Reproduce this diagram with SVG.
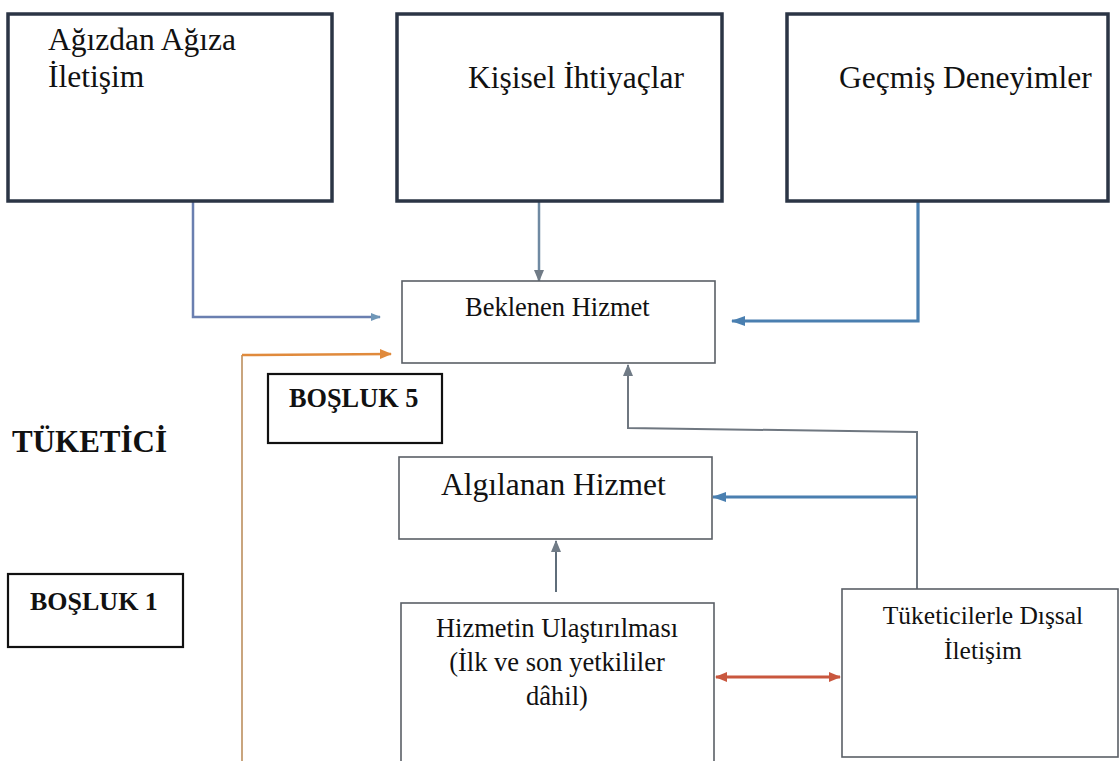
<svg xmlns="http://www.w3.org/2000/svg" width="1120" height="761" viewBox="0 0 1120 761">
<style>
  .top{fill:#fff;stroke:#2b3545;stroke-width:3.5}
  .box{fill:#fff;stroke:#5a5f66;stroke-width:1.6}
  .gap{fill:#fff;stroke:#111;stroke-width:2.2}
  .t{font-family:"Liberation Serif","Times New Roman",serif;fill:#111}
  .b{font-family:"Liberation Serif","Times New Roman",serif;font-weight:bold;fill:#111}
  .c{fill:none}
</style>
<defs>
  <marker id="aBlue" markerWidth="10" markerHeight="10" refX="9" refY="5" orient="auto" markerUnits="userSpaceOnUse" viewBox="0 0 10 10">
    <path d="M0,1 L10,5 L0,9 z" fill="#6f97b8"/>
  </marker>
  <marker id="aDeep" markerWidth="14" markerHeight="12" refX="13" refY="6" orient="auto" markerUnits="userSpaceOnUse" viewBox="0 0 14 12">
    <path d="M0,1 L14,6 L0,11 z" fill="#4a7fb0"/>
  </marker>
  <marker id="aGray" markerWidth="12" markerHeight="12" refX="11" refY="6" orient="auto" markerUnits="userSpaceOnUse" viewBox="0 0 12 12">
    <path d="M0,1 L12,6 L0,11 z" fill="#707b86"/>
  </marker>
  <marker id="aOrange" markerWidth="12" markerHeight="12" refX="11" refY="6" orient="auto" markerUnits="userSpaceOnUse" viewBox="0 0 12 12">
    <path d="M0,1 L12,6 L0,11 z" fill="#e08a3c"/>
  </marker>
  <marker id="aRed" markerWidth="12" markerHeight="12" refX="11" refY="6" orient="auto-start-reverse" markerUnits="userSpaceOnUse" viewBox="0 0 12 12">
    <path d="M0,1 L12,6 L0,11 z" fill="#c9573e"/>
  </marker>
</defs>
<rect width="1120" height="761" fill="#fff"/>

<g id="connectors" class="c">
  <polyline points="193,201 193,317 380,317" stroke="#6a7fb0" stroke-width="2.5" fill="none" marker-end="url(#aBlue)"/>
  <line x1="539" y1="201" x2="539" y2="281" stroke="#6f8aa2" stroke-width="2.5" marker-end="url(#aGray)"/>
  <polyline points="918,201 918,321 732,321" stroke="#4a7fb0" stroke-width="3.2" fill="none" marker-end="url(#aDeep)"/>
  <line x1="242" y1="761" x2="242" y2="355" stroke="#c9a57e" stroke-width="2"/>
  <line x1="242" y1="355" x2="391" y2="354" stroke="#e08a3c" stroke-width="2.5" marker-end="url(#aOrange)"/>
  <polyline points="917,589 917,432 628,428 628,365" stroke="#6f7780" stroke-width="2" fill="none" marker-end="url(#aGray)"/>
  <line x1="917" y1="497" x2="713" y2="497" stroke="#4a7fb0" stroke-width="3" marker-end="url(#aDeep)"/>
  <line x1="556" y1="592" x2="556" y2="541" stroke="#5f6d7a" stroke-width="2" marker-end="url(#aGray)"/>
  <line x1="716" y1="677" x2="840" y2="677" stroke="#c9573e" stroke-width="3" marker-start="url(#aRed)" marker-end="url(#aRed)"/>
</g>

<g id="agizdan">
  <rect class="top" x="8" y="14" width="324" height="187"/>
  <text class="t" x="48" y="50" font-size="31.5">Ağızdan Ağıza</text>
  <text class="t" x="48" y="87" font-size="31.5">İletişim</text>
</g>
<g id="kisisel">
  <rect class="top" x="397" y="14" width="325" height="187"/>
  <text class="t" x="468" y="88" font-size="31.5">Kişisel İhtiyaçlar</text>
</g>
<g id="gecmis">
  <rect class="top" x="787" y="14" width="321" height="187"/>
  <text class="t" x="839" y="88" font-size="31.5">Geçmiş Deneyimler</text>
</g>
<g id="beklenen">
  <rect class="box" x="402" y="281" width="313" height="82"/>
  <text class="t" x="465" y="316" font-size="26.5">Beklenen Hizmet</text>
</g>
<g id="bosluk5">
  <rect class="gap" x="268" y="374" width="174" height="69"/>
  <text class="b" x="289" y="407" font-size="26.3">BOŞLUK 5</text>
</g>
<g id="tuketici">
  <text class="b" x="12" y="452" font-size="31">TÜKETİCİ</text>
</g>
<g id="algilanan">
  <rect class="box" x="399" y="457" width="313" height="82"/>
  <text class="t" x="441" y="495" font-size="31.5">Algılanan Hizmet</text>
</g>
<g id="bosluk1">
  <rect class="gap" x="8" y="574" width="175" height="73"/>
  <text class="b" x="30" y="610" font-size="26">BOŞLUK 1</text>
</g>
<g id="hizmetin">
  <rect class="box" x="401" y="603" width="313" height="170"/>
  <text class="t" x="557" y="637" font-size="26.5" text-anchor="middle">Hizmetin Ulaştırılması</text>
  <text class="t" x="557" y="671" font-size="26.5" text-anchor="middle">(İlk ve son yetkililer</text>
  <text class="t" x="557" y="705" font-size="26.5" text-anchor="middle">dâhil)</text>
</g>
<g id="tuketicilerle">
  <rect class="box" x="842" y="589" width="276" height="168"/>
  <text class="t" x="983" y="624" font-size="25.5" text-anchor="middle">Tüketicilerle Dışsal</text>
  <text class="t" x="983" y="659" font-size="25.5" text-anchor="middle">İletişim</text>
</g>
</svg>
